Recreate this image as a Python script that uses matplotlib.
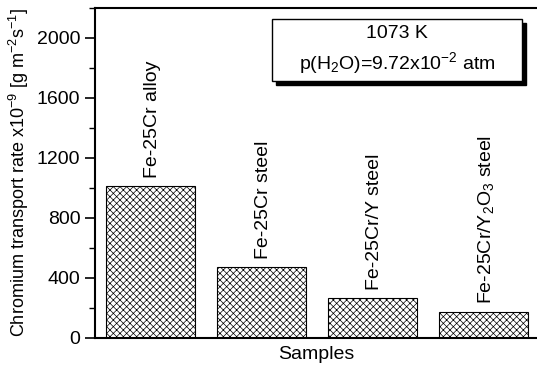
import matplotlib.pyplot as plt
import matplotlib.patches as mpatches
from matplotlib.ticker import MultipleLocator

plt.rcParams["font.family"] = ["Liberation Sans", "DejaVu Sans"]
plt.rcParams["mathtext.fontset"] = "custom"
plt.rcParams["mathtext.rm"] = "Liberation Sans"
plt.rcParams["mathtext.it"] = "Liberation Sans"
plt.rcParams["hatch.linewidth"] = 0.5

samples = ["Fe-25Cr alloy", "Fe-25Cr steel", "Fe-25Cr/Y steel",
           "Fe-25Cr/Y$_2$O$_3$ steel"]
rates = [1015, 473, 265, 173]
positions = [1, 2, 3, 4]

fig = plt.figure(figsize=(5.37, 3.69), dpi=100)
ax = fig.add_axes([95 / 537, 31 / 369, 442 / 537, 330 / 369])

ax.bar(positions, rates, width=0.8, color="white", edgecolor="black",
       linewidth=0.8, hatch="xxxxx")
for x, h, s in zip(positions, rates, samples):
    ax.text(x + 0.02, h + 55, s, rotation=90, ha="center", va="bottom", fontsize=14)

ax.set_xlim(0.5, 4.48)
ax.set_ylim(0, 2200)
ax.yaxis.set_major_locator(MultipleLocator(400))
ax.yaxis.set_minor_locator(MultipleLocator(200))
ax.set_xticks([])
ax.spines["right"].set_visible(False)
for side in ["left", "bottom", "top"]:
    ax.spines[side].set_linewidth(1.5)
ax.tick_params(axis="y", which="major", direction="out", length=7, width=1.2,
               labelsize=14, right=False)
ax.tick_params(axis="y", which="minor", direction="out", length=4, width=1.0)
ax.set_xlabel("Samples", fontsize=14, labelpad=6)
ax.set_ylabel("Chromium transport rate x10$^{-9}$ [g m$^{-2}$s$^{-1}$]", fontsize=13,
              labelpad=4)

# legend-like box with shadow
x0, x1, y0, y1 = 0.400, 0.966, 0.779, 0.967
ax.add_patch(mpatches.Rectangle((x0 + 0.009, y0 - 0.012), x1 - x0, y1 - y0,
                                transform=ax.transAxes, facecolor="black",
                                edgecolor="black", zorder=5))
ax.add_patch(mpatches.Rectangle((x0, y0), x1 - x0, y1 - y0, transform=ax.transAxes,
                                facecolor="white", edgecolor="black", linewidth=1.0,
                                zorder=6))
ax.text((x0 + x1) / 2, 0.924, "1073 K", transform=ax.transAxes, ha="center",
        va="center", fontsize=14, zorder=7)
ax.text((x0 + x1) / 2, 0.833, "p(H$_2$O)=9.72x10$^{-2}$ atm", transform=ax.transAxes,
        ha="center", va="center", fontsize=14, zorder=7)

fig.savefig("out.png", dpi=100)
